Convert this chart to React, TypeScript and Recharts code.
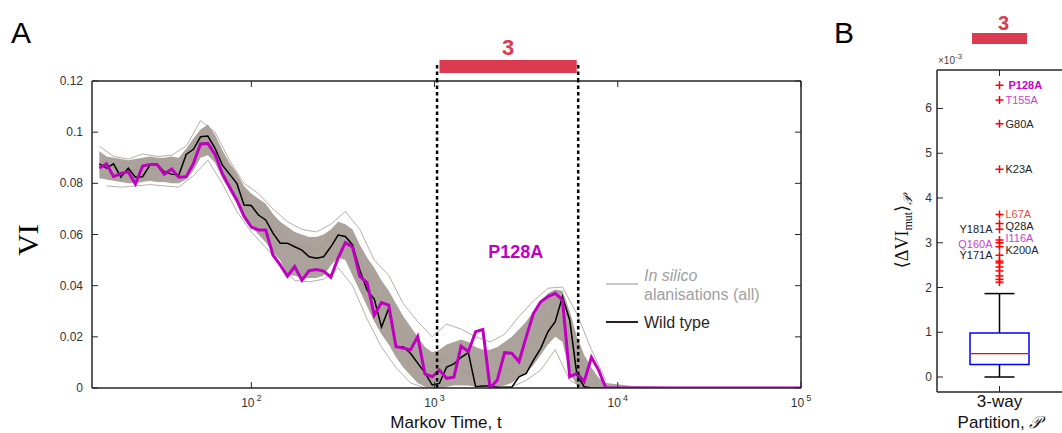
import React from "react";
import {
  ComposedChart, Line, Area, Bar, Scatter, XAxis, YAxis,
  ReferenceLine, ReferenceArea, ReferenceDot,
} from "recharts";

// ---- panel A data -------------------------------------------------------
// Markov times, log spaced, shared by every trace
const markovTime = [
  14.8, 16.2, 17.7, 19.4, 21.3, 23.3, 25.5, 28.0, 30.6, 33.5,
  36.7, 40.2, 44.1, 48.3, 52.8, 57.9, 63.4, 69.4, 76.0, 83.3,
  91.2, 99.9, 109.4, 119.8, 131.2, 143.7, 157.4, 172.4, 188.8, 206.8,
  226.5, 248.0, 271.6, 297.6, 325.8, 356.9, 390.8, 428.1, 468.8, 513.4,
  562.3, 615.9, 674.5, 738.7, 809.1, 886.1, 970.5, 1063, 1164, 1275,
  1396, 1529, 1675, 1834, 2009, 2200, 2410, 2639, 2891, 3166,
  3467, 3797, 4159, 4555, 4989, 5464, 5984, 6554, 7178, 7862,
  8610, 12000, 20000, 40000, 70000, 100000,
];

const wildType = [
  0.0876, 0.0859, 0.0876, 0.0824, 0.0859, 0.0824, 0.0826, 0.0872, 0.0874, 0.0845,
  0.0836, 0.0833, 0.0913, 0.0933, 0.0982, 0.0985, 0.0937, 0.0872, 0.0836, 0.0800,
  0.0715, 0.0713, 0.0676, 0.0657, 0.0605, 0.0566, 0.0566, 0.0552, 0.0539, 0.0513,
  0.0507, 0.0513, 0.0552, 0.0598, 0.0592, 0.0559, 0.0461, 0.0383, 0.0348, 0.0238,
  0.0312, 0.0161, 0.0161, 0.0136, 0.0097, 0.0059, 0.0012, 0.0018, 0.0082, 0.0094,
  0.0120, 0.0138, 0.0005, 0.0008, 0.0008, 0.0003, 0.0003, 0.0003, 0.0044, 0.0057,
  0.0109, 0.0155, 0.0220, 0.0259, 0.0357, 0.0266, 0.0051, 0.0005, 0, 0,
  0, 0, 0, 0, 0, 0,
];

const p128a = [
  0.0860, 0.0876, 0.0826, 0.0839, 0.0845, 0.0797, 0.0868, 0.0874, 0.0874, 0.0836,
  0.0856, 0.0824, 0.0826, 0.0878, 0.0954, 0.0956, 0.0913, 0.0839, 0.0786, 0.0735,
  0.0672, 0.0629, 0.0618, 0.0618, 0.0520, 0.0481, 0.0437, 0.0475, 0.0421, 0.0459,
  0.0463, 0.0457, 0.0433, 0.0508, 0.0568, 0.0551, 0.0436, 0.0412, 0.0285, 0.0334,
  0.0324, 0.0161, 0.0156, 0.0149, 0.0201, 0.0055, 0.0044, 0.0070, 0.0038, 0.0042,
  0.0164, 0.0142, 0.0220, 0.0229, 0.0000, 0.0031, 0.0138, 0.0136, 0.0103, 0.0201,
  0.0292, 0.0337, 0.0357, 0.0370, 0.0344, 0.0044, 0.0057, 0.0025, 0.0120, 0.0070,
  0, 0, 0, 0, 0, 0,
];

// envelope of the in-silico alanisation traces (dense core)
const spreadLow = [
  0.0820, 0.0815, 0.0810, 0.0805, 0.0800, 0.0800, 0.0805, 0.0810, 0.0805, 0.0805,
  0.0800, 0.0800, 0.0815, 0.0850, 0.0900, 0.0910, 0.0880, 0.0820, 0.0770, 0.0720,
  0.0660, 0.0630, 0.0600, 0.0570, 0.0530, 0.0500, 0.0440, 0.0440, 0.0430, 0.0430,
  0.0430, 0.0440, 0.0480, 0.0510, 0.0500, 0.0440, 0.0380, 0.0320, 0.0260, 0.0210,
  0.0170, 0.0120, 0.0080, 0.0050, 0.0020, 0.0005, 0, 0, 0.0005, 0.0010,
  0.0010, 0.0010, 0.0005, 0.0005, 0.0005, 0.0005, 0.0010, 0.0020, 0.0040, 0.0060,
  0.0090, 0.0130, 0.0170, 0.0200, 0.0180, 0.0060, 0.0010, 0, 0, 0,
  0, 0, 0, 0, 0, 0,
];
const spreadHigh = [
  0.0925, 0.0905, 0.0900, 0.0895, 0.0890, 0.0895, 0.0900, 0.0905, 0.0900, 0.0900,
  0.0905, 0.0900, 0.0935, 0.0975, 0.1010, 0.1030, 0.0990, 0.0930, 0.0880, 0.0840,
  0.0790, 0.0760, 0.0740, 0.0720, 0.0680, 0.0650, 0.0630, 0.0610, 0.0600, 0.0590,
  0.0590, 0.0600, 0.0620, 0.0650, 0.0640, 0.0620, 0.0560, 0.0510, 0.0470, 0.0420,
  0.0380, 0.0330, 0.0280, 0.0240, 0.0200, 0.0160, 0.0140, 0.0150, 0.0170, 0.0180,
  0.0190, 0.0180, 0.0160, 0.0150, 0.0150, 0.0160, 0.0180, 0.0200, 0.0230, 0.0260,
  0.0300, 0.0340, 0.0370, 0.0385, 0.0380, 0.0300, 0.0200, 0.0130, 0.0080, 0.0040,
  0.0020, 0.0008, 0.0004, 0, 0, 0,
];

// a few individual stray traces (even / odd / every third time sample)
const strayUpper = [
  0.0945, 0.0905, 0.0895, 0.0915, 0.0905, 0.0910, 0.0945, 0.1045, 0.1000, 0.0890,
  0.0800, 0.0760, 0.0700, 0.0650, 0.0620, 0.0610, 0.0640, 0.0690, 0.0620, 0.0500,
  0.0440, 0.0330, 0.0260, 0.0200, 0.0250, 0.0230, 0.0200, 0.0180, 0.0210, 0.0280,
  0.0340, 0.0390, 0.0395, 0.0290, 0.0150, 0.0030,
];
const strayLower = [
  0.0790, 0.0785, 0.0790, 0.0795, 0.0790, 0.0785, 0.0830, 0.0890, 0.0800, 0.0690,
  0.0610, 0.0550, 0.0480, 0.0420, 0.0415, 0.0425, 0.0470, 0.0400, 0.0270, 0.0160,
  0.0080, 0.0020, 0, 0, 0, 0, 0, 0, 0.0005, 0.0030,
  0.0070, 0.0150, 0.0030, 0, 0,
];
const strayMiddle = [
  0.0870, 0.0860, 0.0850, 0.0870, 0.0880, 0.0990, 0.0850, 0.0700, 0.0620, 0.0560,
  0.0540, 0.0600, 0.0500, 0.0330, 0.0200, 0.0080, 0.0120, 0.0060, 0.0040, 0.0080,
  0.0200, 0.0330, 0.0120, 0.0010,
];

const timeTicks = [100, 1000, 10000, 100000];
const viTicks = [0, 0.02, 0.04, 0.06, 0.08, 0.1, 0.12];
const partitionSpan = [1064, 5970];
const partitionBounds = [1032, 6081];

// ---- panel B data -------------------------------------------------------
const partitions = ["3-way"];
const boxStats = [0, 0.277, 0.523, 0.984, 1.864]; // whisker low, q1, median, q3, whisker high (x1e-3)
const outlierValues = [6.52, 6.19, 5.66, 4.64, 3.63, 3.43, 3.30, 3.06, 3.00, 2.91, 2.72, 2.59, 2.55, 2.46, 2.37, 2.26, 2.18, 2.12];
const outlierNames = ["P128A", "T155A", "G80A", "K23A", "L67A", "Q28A", "Y181A", "I116A", "Q160A", "K200A", "Y171A", "", "", "", "", "", "", ""];
const deltaTicks = [0, 1, 2, 3, 4, 5, 6];

// ---- styling --------------------------------------------------------------
const FONT = "'Liberation Sans', Arial, Helvetica, sans-serif";
const SERIF = "'Liberation Serif', 'DejaVu Serif', serif";
const AXIS = "#262626";
const GRAY = "#a39a92";
const MAGENTA = "#c000c0";
const RED = "#dc3a4e";

const A_W = 830, A_H = 433, A_YW = 60, A_XH = 30;
const A_MARGIN = { top: 81, right: 29, bottom: 15, left: 32 };
const A_LEFT = A_MARGIN.left + A_YW;
const A_RIGHT = A_W - A_MARGIN.right;
const A_TOP = A_MARGIN.top;
const A_BOTTOM = A_H - A_MARGIN.bottom - A_XH;

const B_X = 877, B_W = 185, B_H = 433, B_YW = 30, B_XH = 20;
const B_MARGIN = { top: 70, right: 0, bottom: 21, left: 30 };
const B_LEFT = B_MARGIN.left + B_YW;
const B_TOP = B_MARGIN.top;
const B_BOTTOM = B_H - B_MARGIN.bottom - B_XH;

const traceRows = markovTime.map((t, i) => ({
  t, wt: wildType[i], mut: p128a[i], spread: [spreadLow[i], spreadHigh[i]],
}));
const upperRows = strayUpper.map((v, k) => ({ t: markovTime[2 * k], v }));
const lowerRows = strayLower.map((v, k) => ({ t: markovTime[2 * k + 1], v }));
const middleRows = strayMiddle.map((v, k) => ({ t: markovTime[3 * k], v }));

const boxRows = partitions.map((name) => ({
  name,
  base: boxStats[0],
  lowWhisker: boxStats[1] - boxStats[0],
  lowBox: boxStats[2] - boxStats[1],
  highBox: boxStats[3] - boxStats[2],
  highWhisker: boxStats[4] - boxStats[3],
}));
const outlierRows = outlierValues.map((v, i) => ({ name: partitions[0], v, label: outlierNames[i] }));

const labelColour: Record<string, string> = {
  P128A: "#c800c8", T155A: "#d040d0", I116A: "#d040d0", Q160A: "#d040d0", L67A: "#ec4a4a",
};
const leftLabelled = ["Y181A", "Q160A", "Y171A"];
// small vertical nudges so neighbouring names don't collide
const labelNudge: Record<string, number> = { L67A: -1, Q28A: 2, I116A: -2, K200A: 3, Q160A: 1 };

function LogTick({ x, payload }: any) {
  const exp = Math.round(Math.log10(payload.value));
  return (
    <g>
      <line x1={x} x2={x} y1={A_BOTTOM} y2={A_BOTTOM - 6} stroke={AXIS} />
      <line x1={x} x2={x} y1={A_TOP} y2={A_TOP + 6} stroke={AXIS} />
      <text x={x} y={A_BOTTOM + 19} textAnchor="middle" fontSize={12} fill="#333" fontFamily={FONT}>
        10<tspan dx={2} dy={-6} fontSize={9}>{exp}</tspan>
      </text>
    </g>
  );
}

function ViTick({ y, payload }: any) {
  return (
    <g>
      <line x1={A_LEFT} x2={A_LEFT + 6} y1={y} y2={y} stroke={AXIS} />
      <line x1={A_RIGHT} x2={A_RIGHT - 6} y1={y} y2={y} stroke={AXIS} />
      <text x={A_LEFT - 9} y={y + 4} textAnchor="end" fontSize={12} fill="#333" fontFamily={FONT}>
        {payload.value}
      </text>
    </g>
  );
}

const SpanBar = ({ viewBox }: any) => (
  <g>
    <rect x={viewBox.x} y={viewBox.y - 21} width={viewBox.width} height={13} fill={RED} />
    <text x={viewBox.x + viewBox.width / 2} y={viewBox.y - 26} textAnchor="middle"
      fontSize={22} fontWeight={700} fill={RED} fontFamily={FONT}>3</text>
  </g>
);

const DashAbove = ({ viewBox }: any) => (
  <line x1={viewBox.x} x2={viewBox.x} y1={viewBox.y - 16} y2={viewBox.y}
    stroke="#000" strokeWidth={2.5} strokeDasharray="3.5 3" />
);

const MutantName = ({ viewBox }: any) => (
  <text x={viewBox.x} y={viewBox.y} textAnchor="middle" fontSize={18} fontWeight={700}
    fill={MAGENTA} fontFamily={FONT}>P128A</text>
);

function DeltaTick({ y, payload }: any) {
  return (
    <g>
      <line x1={B_LEFT} x2={B_LEFT + 6} y1={y} y2={y} stroke={AXIS} />
      <text x={B_LEFT - 5} y={y + 4} textAnchor="end" fontSize={12} fill="#333" fontFamily={FONT}>
        {payload.value}
      </text>
    </g>
  );
}

function PartitionTick({ x, payload }: any) {
  return (
    <g>
      <line x1={x} x2={x} y1={B_BOTTOM} y2={B_BOTTOM - 6} stroke={AXIS} />
      <line x1={x} x2={x} y1={B_TOP} y2={B_TOP + 6} stroke={AXIS} />
      <rect x={x - 27.5} y={33} width={55} height={11} fill={RED} />
      <text x={x + 4} y={30} textAnchor="middle" fontSize={20} fontWeight={700} fill={RED} fontFamily={FONT}>3</text>
      <text x={x} y={B_BOTTOM + 15} textAnchor="middle" fontSize={17} fill="#111" fontFamily={FONT}>{payload.value}</text>
      <text x={x} y={B_BOTTOM + 36} textAnchor="middle" fontSize={17} fill="#111" fontFamily={FONT}>
        Partition, <tspan fontFamily={SERIF} fontStyle="italic">𝒫</tspan>
      </text>
    </g>
  );
}

const LowerWhisker = ({ x, y, width, height }: any) => {
  const cx = x + width / 2;
  return (
    <g stroke="#000" strokeWidth={1.5}>
      <line x1={cx} x2={cx} y1={y} y2={y + height} />
      <line x1={cx - 15} x2={cx + 15} y1={y + height} y2={y + height} />
    </g>
  );
};
const UpperWhisker = ({ x, y, width, height }: any) => {
  const cx = x + width / 2;
  return (
    <g stroke="#000" strokeWidth={1.5}>
      <line x1={cx} x2={cx} y1={y} y2={y + height} />
      <line x1={cx - 15} x2={cx + 15} y1={y} y2={y} />
    </g>
  );
};
// lower half of the box: sides + bottom edge (median drawn by the upper half)
const LowBox = ({ x, y, width, height }: any) => (
  <path d={`M${x},${y} V${y + height} H${x + width} V${y}`} fill="none" stroke="#0000ff" strokeWidth={1.5} />
);
const HighBox = ({ x, y, width, height }: any) => (
  <g>
    <path d={`M${x},${y + height} V${y} H${x + width} V${y + height}`} fill="none" stroke="#0000ff" strokeWidth={1.5} />
    <line x1={x + 0.75} x2={x + width - 0.75} y1={y + height} y2={y + height} stroke="#ff0000" strokeWidth={1.3} />
  </g>
);

function OutlierMark({ cx, cy, payload }: any) {
  const name = payload.label;
  const left = leftLabelled.includes(name);
  return (
    <g>
      <line x1={cx - 4} x2={cx + 4} y1={cy} y2={cy} stroke="#ff0000" strokeWidth={1.5} />
      <line x1={cx} x2={cx} y1={cy - 4} y2={cy + 4} stroke="#ff0000" strokeWidth={1.5} />
      {name && (
        <text x={left ? cx - 7 : cx + (name === "P128A" ? 9 : 6)} y={cy + 4 + (labelNudge[name] || 0)}
          textAnchor={left ? "end" : "start"} fontSize={11} fontFamily={FONT}
          fontWeight={name === "P128A" ? 700 : 400} fill={labelColour[name] || "#222"}>
          {name}
        </text>
      )}
    </g>
  );
}

export default function App() {
  return (
    <div style={{ position: "absolute", left: 0, top: 0, width: 1062, height: 433, overflow: "hidden", background: "#fff" }}>
      <div style={{ position: "absolute", left: 0, top: 0 }}>
        <ComposedChart width={A_W} height={A_H} data={traceRows} margin={A_MARGIN}>
          <XAxis dataKey="t" type="number" scale="log" domain={[13.5, 100000]} allowDataOverflow
            ticks={timeTicks} interval={0} tick={<LogTick />} tickLine={false} height={A_XH}
            axisLine={{ stroke: AXIS, strokeWidth: 1.5 }} />
          <YAxis type="number" domain={[0, 0.12]} allowDataOverflow ticks={viTicks} interval={0}
            width={A_YW} tick={<ViTick />} tickLine={false} axisLine={{ stroke: AXIS, strokeWidth: 1.5 }} />
          <ReferenceLine y={0.12} stroke={AXIS} strokeWidth={1.5} />
          <ReferenceLine x={100000} stroke={AXIS} strokeWidth={1.5} />
          <Area dataKey="spread" stroke="none" fill={GRAY} fillOpacity={0.92} isAnimationActive={false} />
          <Line data={upperRows} dataKey="v" stroke={GRAY} strokeWidth={0.8} dot={false} activeDot={false} isAnimationActive={false} />
          <Line data={lowerRows} dataKey="v" stroke={GRAY} strokeWidth={0.8} dot={false} activeDot={false} isAnimationActive={false} />
          <Line data={middleRows} dataKey="v" stroke={GRAY} strokeWidth={0.8} dot={false} activeDot={false} isAnimationActive={false} />
          <Line dataKey="wt" stroke="#000" strokeWidth={1.5} dot={false} activeDot={false} isAnimationActive={false} />
          <Line dataKey="mut" stroke={MAGENTA} strokeWidth={3} dot={false} activeDot={false} isAnimationActive={false} />
          {partitionBounds.map((b) => (
            <ReferenceLine key={b} x={b} stroke="#000" strokeWidth={2.5} strokeDasharray="3.5 3" label={<DashAbove />} />
          ))}
          <ReferenceArea x1={partitionSpan[0]} x2={partitionSpan[1]} y1={0} y2={0.12}
            fill="none" fillOpacity={0} stroke="none" label={<SpanBar />} />
          <ReferenceDot x={2774} y={0.0508} r={0} fill="none" stroke="none" label={<MutantName />} />
        </ComposedChart>
      </div>

      <div style={{ position: "absolute", left: B_X, top: 0 }}>
        <ComposedChart width={B_W} height={B_H} data={boxRows} margin={B_MARGIN}>
          <XAxis dataKey="name" type="category" allowDuplicatedCategory={false} tick={<PartitionTick />}
            tickLine={false} height={B_XH} axisLine={{ stroke: AXIS, strokeWidth: 1.5 }} />
          <YAxis type="number" domain={[-0.335, 6.86]} allowDataOverflow ticks={deltaTicks} interval={0}
            width={B_YW} tick={<DeltaTick />} tickLine={false} axisLine={{ stroke: AXIS, strokeWidth: 1.5 }} />
          <ReferenceLine y={6.86} stroke={AXIS} strokeWidth={1.5} />
          <Bar dataKey="base" stackId="box" fill="none" barSize={59} isAnimationActive={false} />
          <Bar dataKey="lowWhisker" stackId="box" barSize={59} shape={<LowerWhisker />} isAnimationActive={false} />
          <Bar dataKey="lowBox" stackId="box" barSize={59} shape={<LowBox />} isAnimationActive={false} />
          <Bar dataKey="highBox" stackId="box" barSize={59} shape={<HighBox />} isAnimationActive={false} />
          <Bar dataKey="highWhisker" stackId="box" barSize={59} shape={<UpperWhisker />} isAnimationActive={false} />
          <Scatter data={outlierRows} dataKey="v" shape={<OutlierMark />} isAnimationActive={false} />
        </ComposedChart>
      </div>

      <svg width={1062} height={433} style={{ position: "absolute", left: 0, top: 0, pointerEvents: "none" }}>
        <text x={11} y={43} fontSize={30} fontFamily={FONT} fill="#000">A</text>
        <text x={834} y={43} fontSize={30} fontFamily={FONT} fill="#000">B</text>
        <text x={38} y={240} transform="rotate(-90, 38, 240)" textAnchor="middle" fontSize={30}
          fontFamily={SERIF} fill="#000">VI</text>
        <text x={446} y={428} textAnchor="middle" fontSize={17} fontFamily={FONT} fill="#111">Markov Time, t</text>

        <line x1={606} x2={638} y1={284} y2={284} stroke="#b4b4b4" strokeWidth={1.5} />
        <text x={644} y={281} fontSize={16} fontStyle="italic" fontFamily={FONT} fill="#a0a0a0">In silico</text>
        <text x={644} y={300} fontSize={16} fontFamily={FONT} fill="#a0a0a0">alanisations (all)</text>
        <line x1={606} x2={638} y1={322} y2={322} stroke="#2d1f1f" strokeWidth={2} />
        <text x={644} y={328} fontSize={16} fontFamily={FONT} fill="#2d1f1f">Wild type</text>

        <text x={938} y={64} fontSize={10} fontFamily={FONT} fill="#444">
          ×10<tspan dy={-5} fontSize={8}>-3</tspan>
        </text>
        <text x={908} y={232} transform="rotate(-90, 908, 232)" textAnchor="middle" fontSize={18}
          fontFamily={SERIF} fill="#111">
          ⟨ΔVI<tspan fontSize={12} dy={4}>mut</tspan><tspan dy={-4}>⟩</tspan>
          <tspan fontSize={13} dy={4} fontStyle="italic">𝒫</tspan>
        </text>
      </svg>
    </div>
  );
}
